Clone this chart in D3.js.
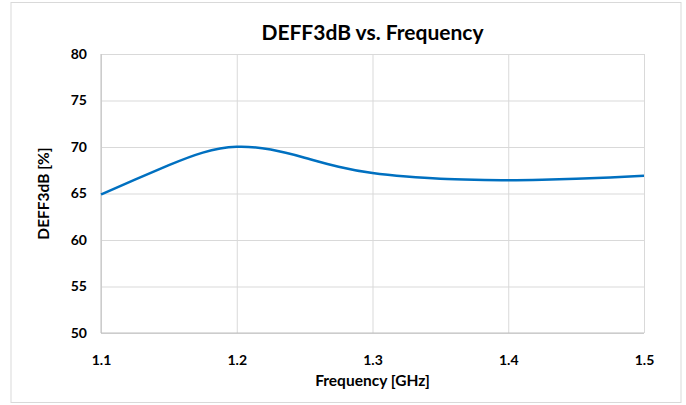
<!DOCTYPE html>
<html>
<head>
<meta charset="utf-8">
<script src="https://cdn.jsdelivr.net/npm/d3@7"></script>
<style>
  body { margin: 0; background: #fff; }
  text { font-family: Lato, "Open Sans", sans-serif; font-weight: bold; fill: #000; }
</style>
</head>
<body>
<script>
// data
const freq = [1.1, 1.125, 1.15, 1.175, 1.2, 1.225, 1.25, 1.275, 1.3, 1.325, 1.35, 1.375, 1.4, 1.425, 1.45, 1.475, 1.5];
const deff = [64.9, 66.5, 68.05, 69.4, 70.02, 69.72, 68.85, 67.88, 67.2, 66.82, 66.58, 66.47, 66.42, 66.47, 66.58, 66.73, 66.9];
const xTicks = [1.1, 1.2, 1.3, 1.4, 1.5];
const yTicks = [50, 55, 60, 65, 70, 75, 80];

const w = 686, h = 405;
const m = { left: 101, right: 42, top: 54, bottom: 72 };

const svg = d3.select('body').append('svg')
  .attr('width', w)
  .attr('height', h);

svg.append('rect')
  .attr('x', 11).attr('y', 2.5)
  .attr('width', 670).attr('height', 400)
  .attr('fill', '#fff')
  .attr('stroke', '#d9d9d9');

const x = d3.scaleLinear().domain([1.1, 1.5]).range([m.left, w - m.right]);
const y = d3.scaleLinear().domain([50, 80]).range([h - m.bottom, m.top]);

// gridlines
svg.append('g')
  .attr('transform', `translate(0,${h - m.bottom})`)
  .call(d3.axisBottom(x).tickValues(xTicks).tickSize(-(h - m.bottom - m.top)).tickFormat(''))
  .call(g => g.select('.domain').remove())
  .selectAll('line').attr('stroke', '#d9d9d9');

svg.append('g')
  .attr('transform', `translate(${m.left},0)`)
  .call(d3.axisLeft(y).tickValues(yTicks).tickSize(-(w - m.left - m.right)).tickFormat(''))
  .call(g => g.select('.domain').remove())
  .selectAll('line').attr('stroke', '#d9d9d9');

// axis lines
svg.append('line')
  .attr('x1', m.left).attr('x2', m.left)
  .attr('y1', m.top).attr('y2', h - m.bottom)
  .attr('stroke', '#bfbfbf');
svg.append('line')
  .attr('x1', m.left).attr('x2', w - m.right)
  .attr('y1', h - m.bottom).attr('y2', h - m.bottom)
  .attr('stroke', '#bfbfbf');

// tick labels
const xAx = svg.append('g')
  .attr('transform', `translate(0,${h - m.bottom})`)
  .call(d3.axisBottom(x).tickValues(xTicks).tickSize(0).tickPadding(22).tickFormat(d3.format('.1f')));
xAx.select('.domain').remove();
xAx.selectAll('text').style('font-size', '14px');

const yAx = svg.append('g')
  .attr('transform', `translate(${m.left},0)`)
  .call(d3.axisLeft(y).tickValues(yTicks).tickSize(0).tickPadding(14));
yAx.select('.domain').remove();
yAx.selectAll('text').style('font-size', '14px');

// line
const line = d3.line()
  .x((d, i) => x(freq[i]))
  .y(d => y(d))
  .curve(d3.curveNatural);

svg.append('path')
  .datum(deff)
  .attr('fill', 'none')
  .attr('stroke', '#0070c0')
  .attr('stroke-width', 2.5)
  .attr('d', line);

// titles
svg.append('text')
  .attr('x', (m.left + w - m.right) / 2)
  .attr('y', 40)
  .attr('text-anchor', 'middle')
  .style('font-size', '21px')
  .text('DEFF3dB vs. Frequency');

svg.append('text')
  .attr('x', (m.left + w - m.right) / 2)
  .attr('y', 386)
  .attr('text-anchor', 'middle')
  .style('font-size', '15.5px')
  .text('Frequency [GHz]');

svg.append('text')
  .attr('transform', `translate(49,${(m.top + h - m.bottom) / 2}) rotate(-90)`)
  .attr('text-anchor', 'middle')
  .style('font-size', '15.5px')
  .text('DEFF3dB [%]');
</script>
</body>
</html>
